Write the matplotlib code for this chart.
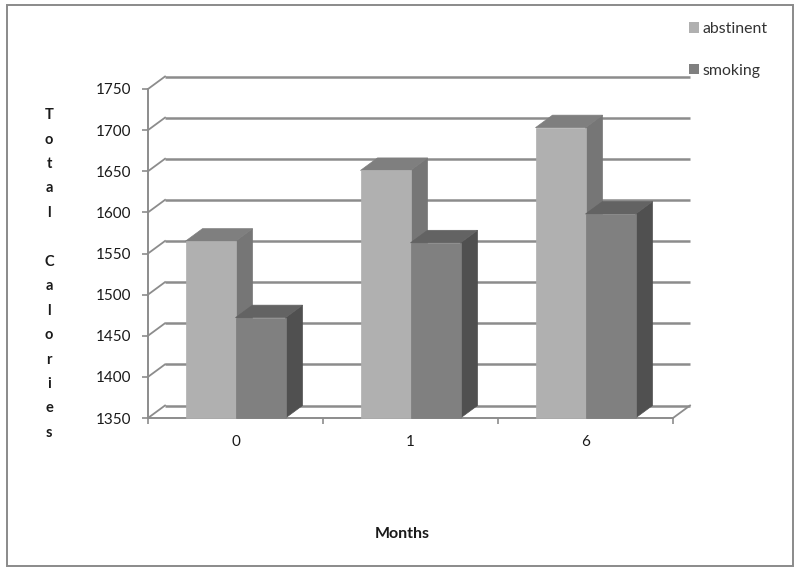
#!/usr/bin/env python3
"""Total calories by months, faux 3D bars like the old spreadsheet look."""
import matplotlib
matplotlib.use("Agg")
import matplotlib.pyplot as plt
import numpy as np
from matplotlib.patches import Patch, Polygon, Rectangle
from matplotlib.transforms import Affine2D

months = ["0", "1", "6"]
abstinent = [1565, 1651, 1703]
smoking = [1472, 1563, 1598]
y_ticks = [1350, 1400, 1450, 1500, 1550, 1600, 1650, 1700, 1750]

W, H = 800, 588
DEPTH_X, DEPTH_Y = 17, 12.5  # pixels
GRID = "#8c8c8c"

plt.rcParams["font.family"] = ["Lato", "DejaVu Sans"]

fig = plt.figure(figsize=(W / 100, H / 100), dpi=100)
fig.add_artist(Rectangle((7 / W, 1 - 566 / H), 786 / W, 561 / H, transform=fig.transFigure,
                         fill=False, ec="#8a8a8a", lw=1.4))

ax = fig.add_axes([148 / W, 1 - 418 / H, 525 / W, 329 / H])
ax.set_xlim(0, 3)
ax.set_ylim(1350, 1750)
ax.patch.set_visible(False)
for name in ["top", "right"]:
    ax.spines[name].set_visible(False)
for name in ["left", "bottom"]:
    ax.spines[name].set_color(GRID)
    ax.spines[name].set_linewidth(1.4)

# same data scale, shifted to the back of the box
back = ax.transData + Affine2D().translate(DEPTH_X, DEPTH_Y)
dx = DEPTH_X * 3 / 525
dy = DEPTH_Y * 400 / 329

for v in y_ticks:
    ax.plot([0, dx], [v, v + dy], color=GRID, lw=1.3, clip_on=False, zorder=1)
    ax.plot([0, 3], [v, v], color=GRID, lw=1.8, clip_on=False, zorder=1, transform=back,
            solid_capstyle="butt")
ax.plot([3, 3 + dx], [1350, 1350 + dy], color=GRID, lw=1.3, clip_on=False, zorder=1)


def bar3d(x0, w, top, front, side, cap, z):
    ax.add_patch(Polygon([(x0 + w, 1350), (x0 + w + dx, 1350 + dy), (x0 + w + dx, top + dy), (x0 + w, top)],
                         fc=side, ec=side, lw=0.5, clip_on=False, zorder=z))
    ax.add_patch(Polygon([(x0, top), (x0 + dx, top + dy), (x0 + w + dx, top + dy), (x0 + w, top)],
                         fc=cap, ec=cap, lw=0.5, clip_on=False, zorder=z))
    ax.add_patch(Rectangle((x0, 1350), w, top - 1350, fc=front, ec=front, lw=0.5, clip_on=False, zorder=z + 0.1))


bar_w = 50 / 175
for i in range(len(months)):
    left = i + 0.5 - bar_w
    bar3d(left, bar_w, abstinent[i], "#b0b0b0", "#767676", "#7f7f7f", 3)
    bar3d(left + bar_w, bar_w, smoking[i], "#808080", "#505050", "#636363", 4)

ax.set_yticks(y_ticks)
ax.set_xticks(np.arange(4))
ax.set_xticklabels([])
ax.set_xticks(np.arange(len(months)) + 0.5, months, minor=True)
ax.tick_params(axis="x", which="major", length=4, width=1.2, color=GRID)
ax.tick_params(axis="x", which="minor", length=0, pad=12.5, labelsize=11, labelcolor="#1a1a1a")
ax.tick_params(axis="y", length=4, width=1.2, color=GRID, pad=8, labelsize=11, labelcolor="#1a1a1a")

fig.text(402 / W, 1 - 534 / H, "Months", ha="center", va="center", fontsize=11.5, fontweight="bold", color="#1a1a1a")
fig.text(49 / W, 1 - 274 / H, "\n".join("Total") + "\n\n" + "\n".join("Calories"), ha="center", va="center",
         fontsize=10.5, fontweight="bold", color="#1a1a1a", linespacing=1.95)

handles = [Patch(fc="#b0b0b0", label="abstinent"), Patch(fc="#808080", label="smoking")]
fig.legend(handles=handles, loc="upper left", bbox_to_anchor=(676 / W, 1 - 9.5 / H), frameon=False,
           handlelength=0.63, handleheight=0.63, handletextpad=0.25, labelspacing=1.74, fontsize=11.4,
           labelcolor="#333333", borderpad=0.3)

fig.savefig("out.png", dpi=100)
